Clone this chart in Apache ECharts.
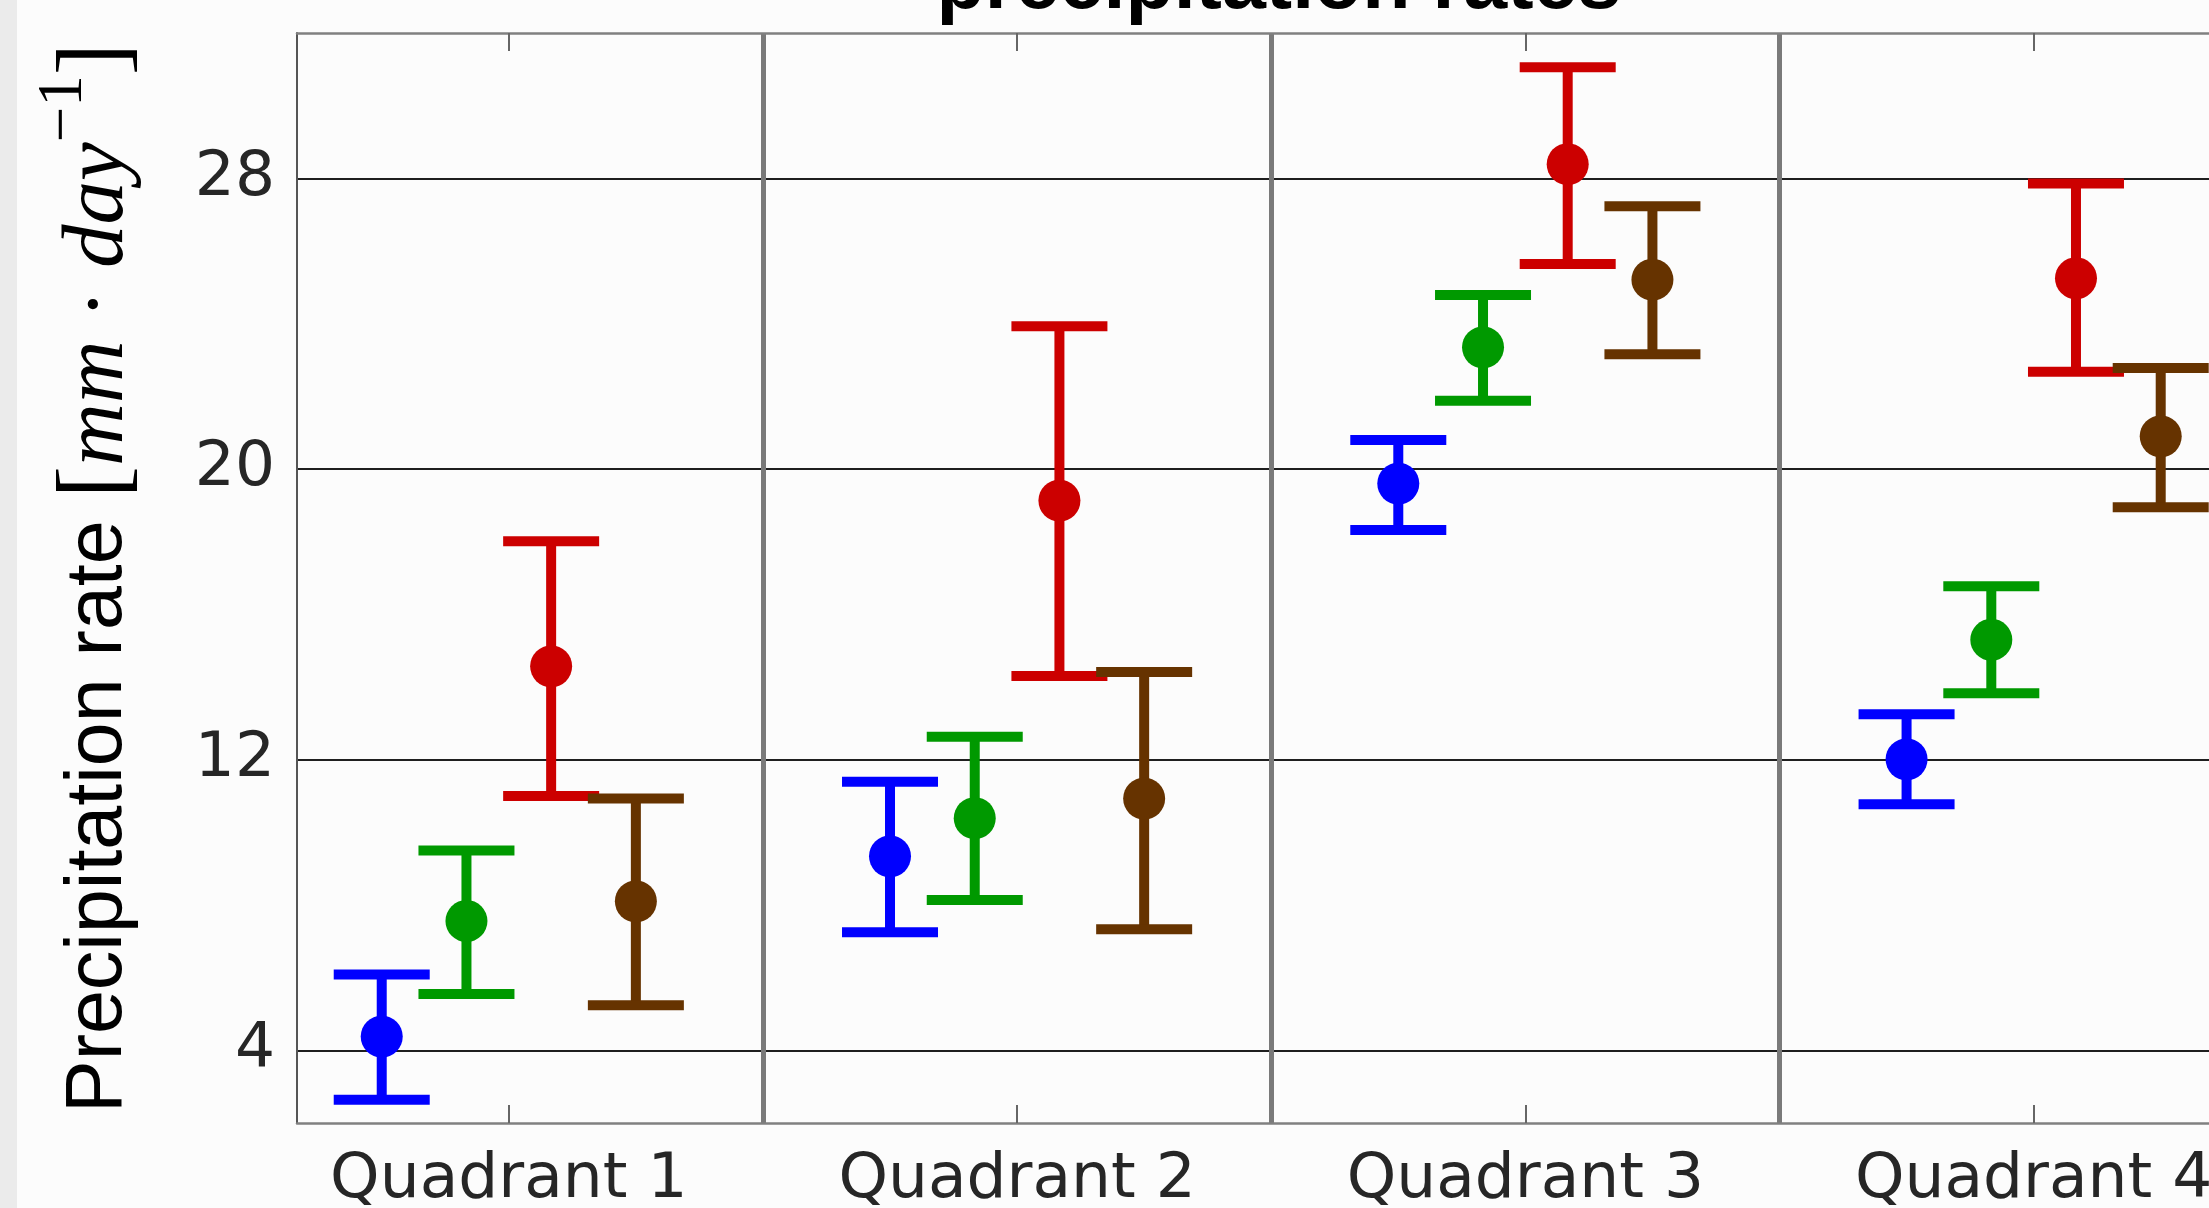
<!DOCTYPE html>
<html>
<head>
<meta charset="utf-8">
<script src="https://cdn.jsdelivr.net/npm/echarts@6/dist/echarts.min.js"></script>
<style>
  html, body { margin: 0; padding: 0; background: #fcfcfc; }
  #chart { width: 2209px; height: 1208px; }
</style>
</head>
<body>
<div id="chart"></div>
<script>
// ---- data ----
const categories = ['Quadrant 1', 'Quadrant 2', 'Quadrant 3', 'Quadrant 4'];
const yTicks = [4, 12, 20, 28];
const titleText = 'precipitation rates';

const blueMean  = [4.38, 9.34, 19.60, 12.01];
const blueLow   = [2.64, 7.25, 18.32, 10.77];
const blueHigh  = [6.09, 11.39, 20.80, 13.25];

const greenMean = [7.56, 10.39, 23.35, 15.30];
const greenLow  = [5.55, 8.14, 21.88, 13.83];
const greenHigh = [9.50, 12.63, 24.79, 16.77];

const redMean   = [14.57, 19.13, 28.39, 25.25];
const redLow    = [11.00, 14.30, 25.64, 22.68];
const redHigh   = [18.01, 23.93, 31.06, 27.86];

const brownMean = [8.10, 10.93, 25.21, 20.90];
const brownLow  = [5.24, 7.33, 23.16, 18.95];
const brownHigh = [10.93, 14.41, 27.23, 22.78];

// ---- styling / layout ----
const groups = [
  { name: 'blue',  color: '#0000ff', offset: -0.25,   mean: blueMean,  low: blueLow,  high: blueHigh },
  { name: 'green', color: '#009900', offset: -0.0833, mean: greenMean, low: greenLow, high: greenHigh },
  { name: 'red',   color: '#cc0000', offset: 0.0833,  mean: redMean,   low: redLow,   high: redHigh },
  { name: 'brown', color: '#663300', offset: 0.25,    mean: brownMean, low: brownLow, high: brownHigh }
];
const LW = 10, CAP = 48, R = 21;
const X_MIN = 0.5833, X_MAX = 4.345;   // right part of the figure is cropped
const separators = [1.5, 2.5, 3.5];
const tickVals = categories.map((c, i) => i + 1);

const chart = echarts.init(document.getElementById('chart'), null, { renderer: 'canvas' });

const tickFont = { fontFamily: 'DejaVu Sans', fontSize: 63, color: '#262626' };

const option = {
  backgroundColor: '#fcfcfc',
  animation: false,
  grid: { left: 297, top: 33, right: 0, bottom: 85, containLabel: false, outerBoundsMode: 'none' },
  xAxis: [
    {
      type: 'value', position: 'bottom', min: X_MIN, max: X_MAX,
      axisLine: { show: true, lineStyle: { color: '#808080', width: 2.5 } },
      axisTick: { show: true, inside: true, length: 18, customValues: tickVals, lineStyle: { color: '#666', width: 2 } },
      axisLabel: { show: true, customValues: tickVals, margin: 26, ...tickFont,
        formatter: v => categories[Math.round(v) - 1] },
      splitLine: { show: false }
    },
    {
      type: 'value', position: 'top', min: X_MIN, max: X_MAX,
      axisLine: { show: true, lineStyle: { color: '#808080', width: 2.5 } },
      axisTick: { show: true, inside: true, length: 18, customValues: tickVals, lineStyle: { color: '#666', width: 2 } },
      axisLabel: { show: false },
      splitLine: { show: false }
    },
    {
      type: 'value', position: 'bottom', min: X_MIN, max: X_MAX,
      axisLine: { show: false },
      axisTick: { show: false, customValues: separators },
      axisLabel: { show: false, customValues: separators },
      splitLine: { show: true, lineStyle: { color: '#7a7a7a', width: 5 } }
    }
  ],
  yAxis: [
    {
      type: 'value', position: 'left', min: 2, max: 32,
      axisLine: { show: true, lineStyle: { color: '#555', width: 2 } },
      axisTick: { show: false, customValues: yTicks },
      axisLabel: { show: true, customValues: yTicks, margin: 22, ...tickFont },
      splitLine: { show: true, lineStyle: { color: '#1f1f1f', width: 2 } },
      name: '{a|Precipitation rate }{b|[}{c|mm}{d| \u00B7 }{c|day}{e|\u22121}{b|]}',
      nameLocation: 'middle',
      nameRotate: 90,
      nameGap: 132,
      nameTextStyle: {
        rich: {
          a: { fontFamily: 'Liberation Sans', fontSize: 79, color: '#000', lineHeight: 132 },
          b: { fontFamily: 'Liberation Serif', fontSize: 97, color: '#000', lineHeight: 132 },
          c: { fontFamily: 'Liberation Serif', fontStyle: 'italic', fontSize: 87, color: '#000', lineHeight: 132 },
          d: { fontFamily: 'Liberation Serif', fontSize: 87, color: '#000', lineHeight: 132 },
          e: { fontFamily: 'Liberation Serif', fontSize: 63, color: '#000', lineHeight: 10, verticalAlign: 'top' }
        }
      }
    }
  ],
  graphic: [
    { type: 'rect', shape: { x: 0, y: 0, width: 17, height: 1208 }, style: { fill: '#ebebeb' }, z: 100 },
    { type: 'text', x: 1279, y: -14, z: 100,
      style: { text: titleText, font: 'bold 79px "Liberation Sans"', fill: '#000', align: 'center', verticalAlign: 'middle' } }
  ],
  series: groups.map(g => ({
    type: 'custom',
    name: g.name,
    xAxisIndex: 0,
    yAxisIndex: 0,
    clip: false,
    z: 10,
    data: g.mean.map((m, i) => [tickVals[i] + g.offset, m, g.low[i], g.high[i]]),
    renderItem: function (params, api) {
      const x = api.value(0), m = api.value(1), lo = api.value(2), hi = api.value(3);
      const pHi = api.coord([x, hi]), pLo = api.coord([x, lo]), pM = api.coord([x, m]);
      const st = { stroke: g.color, lineWidth: LW, lineCap: 'butt' };
      return {
        type: 'group',
        children: [
          { type: 'line', shape: { x1: pHi[0], y1: pHi[1], x2: pLo[0], y2: pLo[1] }, style: st },
          { type: 'line', shape: { x1: pHi[0] - CAP, y1: pHi[1], x2: pHi[0] + CAP, y2: pHi[1] }, style: st },
          { type: 'line', shape: { x1: pLo[0] - CAP, y1: pLo[1], x2: pLo[0] + CAP, y2: pLo[1] }, style: st },
          { type: 'circle', shape: { cx: pM[0], cy: pM[1], r: R }, style: { fill: g.color } }
        ]
      };
    }
  }))
};

chart.setOption(option);
</script>
</body>
</html>
